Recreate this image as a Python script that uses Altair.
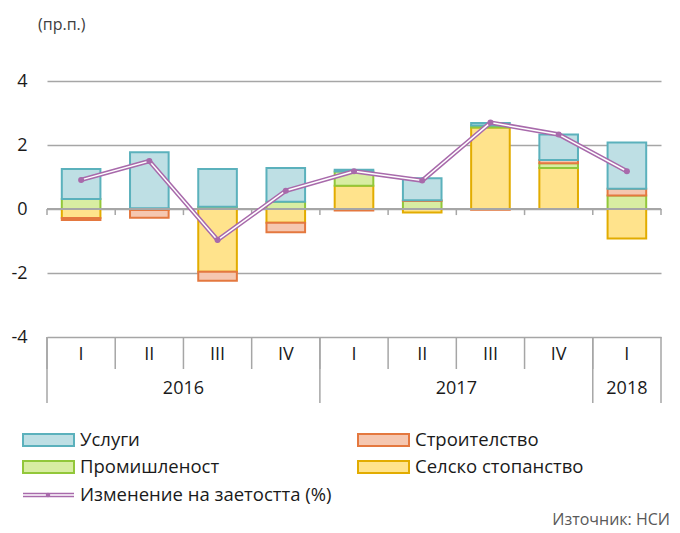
import altair as alt
import pandas as pd

# ---------------- data ----------------
quarters = ["I", "II", "III", "IV", "I", "II", "III", "IV", "I"]
years = ["2016", "2016", "2016", "2016", "2017", "2017", "2017", "2017", "2018"]

agriculture = [-0.28, -0.03, -1.96, -0.43, 0.73, -0.11, 2.55, 1.28, -0.92]
industry = [0.31, 0.02, 0.07, 0.23, 0.44, 0.25, 0.06, 0.15, 0.42]
construction = [-0.06, -0.24, -0.28, -0.30, -0.05, 0.02, -0.02, 0.10, 0.21]
services = [0.94, 1.75, 1.18, 1.05, 0.06, 0.69, 0.08, 0.80, 1.45]
employment = [0.91, 1.50, -0.97, 0.57, 1.18, 0.89, 2.70, 2.33, 1.18]

series_names = ["Селско стопанство", "Промишленост", "Строителство", "Услуги"]
line_name = "Изменение на заетостта (%)"
unit_label = "(пр.п.)"
source_label = "Източник: НСИ"
y_ticks = [-4, -2, 0, 2, 4]

# ---------------- styles ----------------
fills = ["#FFE38C", "#D8EDA2", "#F5C7B0", "#BEDFE4"]
strokes = ["#E2AC00", "#92C73A", "#E4783F", "#5BB1BC"]
line_color = "#A86AAB"
GRID = "#A6A6A6"
FONT = "Open Sans"
TXT = "#1a1a1a"
W, H = 614, 256

cats = [f"{y}-{q}" for y, q in zip(years, quarters)]

rows = []
for k, (name, vals) in enumerate(zip(series_names, [agriculture, industry, construction, services])):
    for c, v in zip(cats, vals):
        rows.append({"cat": c, "series": name, "value": v, "ord": k})
bars_df = pd.DataFrame(rows)
line_df = pd.DataFrame({"cat": cats, "value": employment})
q_df = pd.DataFrame({"cat": cats, "q": quarters, "year": years})
one = pd.DataFrame({"k": [0]})

xscale = alt.Scale(domain=cats, paddingInner=0, paddingOuter=0)
yscale = alt.Scale(domain=[-4, 4], nice=False)

bars = alt.Chart(bars_df).mark_bar(width=alt.RelativeBandSize(0.566), strokeWidth=2).encode(
    x=alt.X("cat:N", scale=xscale, axis=None),
    y=alt.Y("value:Q", scale=yscale, stack="zero",
            axis=alt.Axis(values=y_ticks, grid=True, domain=False, ticks=False, labelPadding=20,
                          title=None, labelFont=FONT, labelFontSize=18, labelColor=TXT,
                          labelExpr="'' + datum.value",
                          gridColor=GRID, gridWidth=1.3)),
    fill=alt.Fill("series:N", scale=alt.Scale(domain=series_names, range=fills), legend=None),
    stroke=alt.Stroke("series:N", scale=alt.Scale(domain=series_names, range=strokes), legend=None),
    order=alt.Order("ord:Q", sort="ascending"),
)

zero_line = alt.Chart(one).mark_rule(color=GRID, strokeWidth=2).encode(
    y=alt.datum(0), x=alt.value(0), x2=alt.value(W))
zero_ticks = alt.Chart(q_df).mark_rule(color=GRID, strokeWidth=1.5).encode(
    x=alt.X("cat:N", scale=xscale, bandPosition=0, axis=None), y=alt.datum(0), y2=alt.datum(-0.19))
zero_tick_end = alt.Chart(one).mark_rule(color=GRID, strokeWidth=1.5).encode(
    x=alt.value(W), y=alt.datum(0), y2=alt.datum(-0.19))

base_line = alt.Chart(line_df).encode(
    x=alt.X("cat:N", scale=xscale, axis=None), y=alt.Y("value:Q", scale=yscale))
line_outer = base_line.mark_line(color=line_color, strokeWidth=4.5)
line_inner = base_line.mark_line(color="white", strokeWidth=1.5)
line_pts = base_line.mark_point(filled=True, color=line_color, size=36, opacity=1)

# ---------- category table under the plot ----------
q_labels = alt.Chart(q_df).mark_text(font=FONT, fontSize=18, color=TXT, baseline="middle").encode(
    x=alt.X("cat:N", scale=xscale, axis=None), y=alt.value(H + 18), text="q:N")
q_sep = alt.Chart(q_df).mark_rule(color=GRID, strokeWidth=1.5).encode(
    x=alt.X("cat:N", scale=xscale, bandPosition=0, axis=None), y=alt.value(H), y2=alt.value(H + 32))
first_df = q_df[q_df["q"] == "I"]
y_sep = alt.Chart(first_df).mark_rule(color=GRID, strokeWidth=1.5).encode(
    x=alt.X("cat:N", scale=xscale, bandPosition=0, axis=None), y=alt.value(H), y2=alt.value(H + 66))
end_sep = alt.Chart(one).mark_rule(color=GRID, strokeWidth=1.5).encode(
    x=alt.value(W), y=alt.value(H), y2=alt.value(H + 66))

year_layers = []
for yr in sorted(set(years)):
    yc = [c for c, y in zip(cats, years) if y == yr]
    n = len(yc)
    if n % 2 == 0:
        mid, bp = yc[n // 2 - 1], 1
    else:
        mid, bp = yc[n // 2], 0.5
    ydf = pd.DataFrame({"cat": [mid], "year": [yr]})
    year_layers.append(alt.Chart(ydf).mark_text(font=FONT, fontSize=18, color=TXT, baseline="middle").encode(
        x=alt.X("cat:N", scale=xscale, bandPosition=bp, axis=None), y=alt.value(H + 52), text="year:N"))

# ---------- legend ----------
legend_layers = []
legend_pos = {"Услуги": (-24, 359), "Строителство": (311, 359),
              "Промишленост": (-24, 386), "Селско стопанство": (311, 386)}
for name, fc, sc in zip(series_names, fills, strokes):
    lx, ly = legend_pos[name]
    legend_layers.append(alt.Chart(one).mark_rect(fill=fc, stroke=sc, strokeWidth=2).encode(
        x=alt.value(lx), x2=alt.value(lx + 51), y=alt.value(ly - 6), y2=alt.value(ly + 6)))
    legend_layers.append(alt.Chart(pd.DataFrame({"t": [name]})).mark_text(
        font=FONT, fontSize=18.5, color=TXT, align="left", baseline="middle").encode(
        x=alt.value(lx + 57), y=alt.value(ly), text="t:N"))
lx, ly = -24, 414
legend_layers.append(alt.Chart(one).mark_rule(color=line_color, strokeWidth=4.5).encode(
    x=alt.value(lx), x2=alt.value(lx + 51), y=alt.value(ly)))
legend_layers.append(alt.Chart(one).mark_rule(color="white", strokeWidth=1.5).encode(
    x=alt.value(lx), x2=alt.value(lx + 51), y=alt.value(ly)))
legend_layers.append(alt.Chart(one).mark_point(filled=True, color=line_color, size=20, opacity=1).encode(
    x=alt.value(lx + 25), y=alt.value(ly)))
legend_layers.append(alt.Chart(pd.DataFrame({"t": [line_name]})).mark_text(
    font=FONT, fontSize=18.5, color=TXT, align="left", baseline="middle").encode(
    x=alt.value(lx + 57), y=alt.value(ly), text="t:N"))

unit = alt.Chart(pd.DataFrame({"t": [unit_label]})).mark_text(
    font=FONT, fontSize=16, color="#404040", align="left", baseline="middle").encode(
    x=alt.value(-9), y=alt.value(-56), text="t:N")
source = alt.Chart(pd.DataFrame({"t": [source_label]})).mark_text(
    font=FONT, fontSize=16, color="#595959", align="right", baseline="alphabetic").encode(
    x=alt.value(623), y=alt.value(444), text="t:N")

chart = alt.layer(
    bars, zero_line, zero_ticks, zero_tick_end,
    line_outer, line_inner, line_pts,
    q_sep, y_sep, end_sep, q_labels, *year_layers,
    *legend_layers, unit, source,
).properties(
    width=W, height=H,
    padding={"left": 39, "top": 73, "right": 11, "bottom": 196},
    autosize=alt.AutoSizeParams(type="none"),
).configure_view(stroke=None)

chart.save("out.html", embed_options={"renderer": "svg", "actions": False})
